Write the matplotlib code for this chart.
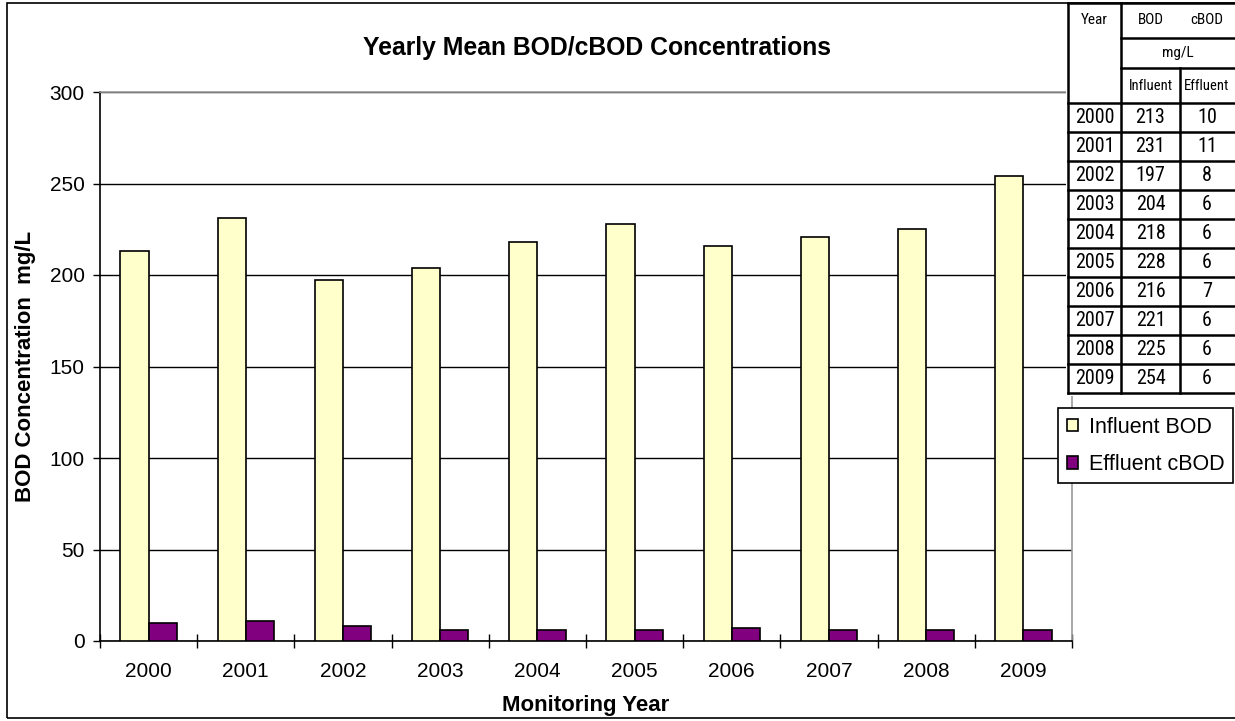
import matplotlib.pyplot as plt
import matplotlib.font_manager as fm
import numpy as np
from matplotlib.patches import Rectangle
from matplotlib.lines import Line2D

# data
years = ['2000', '2001', '2002', '2003', '2004', '2005', '2006', '2007', '2008', '2009']
influent_bod = [213, 231, 197, 204, 218, 228, 216, 221, 225, 254]
effluent_cbod = [10, 11, 8, 6, 6, 6, 7, 6, 6, 6]
y_ticks = [0, 50, 100, 150, 200, 250, 300]

plt.rcParams['font.family'] = ['Liberation Sans', 'DejaVu Sans']

# a condensed face for the table, if one is installed
names = sorted({f.name for f in fm.fontManager.ttflist})
narrow_name = None
for n in ['Liberation Sans Narrow', 'Arial Narrow', 'Roboto Condensed', 'Open Sans Condensed',
          'Noto Sans Condensed', 'DejaVu Sans Condensed']:
    if n in names:
        narrow_name = n
        break
if narrow_name:
    narrow = [narrow_name, 'Liberation Sans']
    fs_data, fs_head, fs_sub = 14.5, 11, 10.5
else:
    narrow = ['Liberation Sans']
    fs_data, fs_head, fs_sub = 12.5, 10, 9.5

W, H = 1235, 721
fig = plt.figure(figsize=(W / 100, H / 100), dpi=100)

# outer chart frame
fig.patches.append(Rectangle((7 / W, 3 / H), 1.2, 715 / H, transform=fig.transFigure,
                             fill=False, edgecolor='black', linewidth=1.2))

ax = fig.add_axes([100 / W, 1 - 641 / H, (1072 - 100) / W, (641 - 92) / H])
x = np.arange(len(years))
bw = 0.29
ax.bar(x - bw / 2, influent_bod, bw, color='#FFFFCC', edgecolor='black', linewidth=1.2,
       label='Influent BOD', zorder=3)
ax.bar(x + bw / 2, effluent_cbod, bw, color='#800080', edgecolor='black', linewidth=1.2,
       label='Effluent cBOD', zorder=3)

ax.set_xlim(-0.5, len(years) - 0.5)
ax.set_ylim(0, 300)
ax.set_yticks(y_ticks)
ax.tick_params(axis='y', labelsize=15, length=5, width=1, direction='out', pad=6)
ax.set_xticks(x)
ax.set_xticklabels(years)
ax.tick_params(axis='x', which='major', length=0, labelsize=15, pad=15)
ax.set_xticks(np.arange(len(years) + 1) - 0.5, minor=True)
ax.tick_params(axis='x', which='minor', length=10, width=1, direction='inout')
ax.yaxis.grid(True, color='black', linewidth=1, zorder=0)
ax.set_axisbelow(True)
for s in ['top', 'right']:
    ax.spines[s].set_color('#999999')
    ax.spines[s].set_linewidth(1.2)
for s in ['left', 'bottom']:
    ax.spines[s].set_linewidth(1.2)

ax.set_xlabel('Monitoring Year', fontsize=16, fontweight='bold')
ax.xaxis.set_label_coords(0.5, -(695 - 641) / 549)
ax.set_ylabel('BOD Concentration  mg/L', fontsize=16, fontweight='bold')
ax.yaxis.set_label_coords(-(100 - 36) / 972, 0.5)
fig.text(597 / W, 1 - 48 / H, 'Yearly Mean BOD/cBOD Concentrations', ha='center', va='center',
         fontsize=17.8, fontweight='bold')

# legend
fig.legend(loc='upper left', bbox_to_anchor=(1058 / W, 1 - 408 / H), fontsize=15.5,
           frameon=True, fancybox=False, edgecolor='black', framealpha=1,
           handlelength=0.55, handleheight=0.55, handletextpad=0.5, labelspacing=0.75,
           borderpad=0.4, borderaxespad=0)
leg = fig.legends[0]
leg.get_frame().set_linewidth(1.2)

# data table in the top right corner (pixel coordinates)
tax = fig.add_axes([1064 / W, 1 - 396 / H, (W - 1064) / W, 396 / H])
tax.set_xlim(1064, W)
tax.set_ylim(396, 0)
tax.axis('off')
tax.add_patch(Rectangle((1066, 2), 200, 394, facecolor='white', edgecolor='none', zorder=0))
cols = [1068, 1121, 1180, 1240]
top, hdr1, hdr2, hdr3 = 3, 38, 68, 103
row_h = 29
bottom = hdr3 + row_h * len(years)
lw = 1.8


def hline(y, x0, x1):
    tax.add_line(Line2D([x0, x1], [y, y], color='black', linewidth=lw))


def vline(xx, y0, y1):
    tax.add_line(Line2D([xx, xx], [y0, y1], color='black', linewidth=lw))


hline(top, cols[0], cols[3])
hline(hdr1, cols[1], cols[3])
hline(hdr2, cols[1], cols[3])
vline(cols[0], top, bottom)
vline(cols[1], top, bottom)
vline(cols[2], hdr2, bottom)
for i in range(len(years) + 1):
    hline(hdr3 + i * row_h, cols[0], cols[3])

c1 = (cols[0] + cols[1]) / 2
c2 = (cols[1] + cols[2]) / 2
c3 = (cols[2] + 1234) / 2
tax.text(c1, (top + hdr1) / 2, 'Year', ha='center', va='center', fontsize=fs_head, family=narrow)
tax.text(c2, (top + hdr1) / 2, 'BOD', ha='center', va='center', fontsize=fs_head, family=narrow)
tax.text(c3, (top + hdr1) / 2, 'cBOD', ha='center', va='center', fontsize=fs_head, family=narrow)
tax.text((cols[1] + 1234) / 2, (hdr1 + hdr2) / 2, 'mg/L', ha='center', va='center',
         fontsize=fs_head, family=narrow)
tax.text(c2, (hdr2 + hdr3) / 2, 'Influent', ha='center', va='center', fontsize=fs_sub, family=narrow)
tax.text(c3, (hdr2 + hdr3) / 2, 'Effluent', ha='center', va='center', fontsize=fs_sub, family=narrow)
for i, yr in enumerate(years):
    yc = hdr3 + (i + 0.5) * row_h
    tax.text(c1, yc, yr, ha='center', va='center', fontsize=fs_data, family=narrow)
    tax.text(c2, yc, str(influent_bod[i]), ha='center', va='center', fontsize=fs_data, family=narrow)
    tax.text(c3, yc, str(effluent_cbod[i]), ha='center', va='center', fontsize=fs_data, family=narrow)

fig.savefig('out.png', dpi=100)
